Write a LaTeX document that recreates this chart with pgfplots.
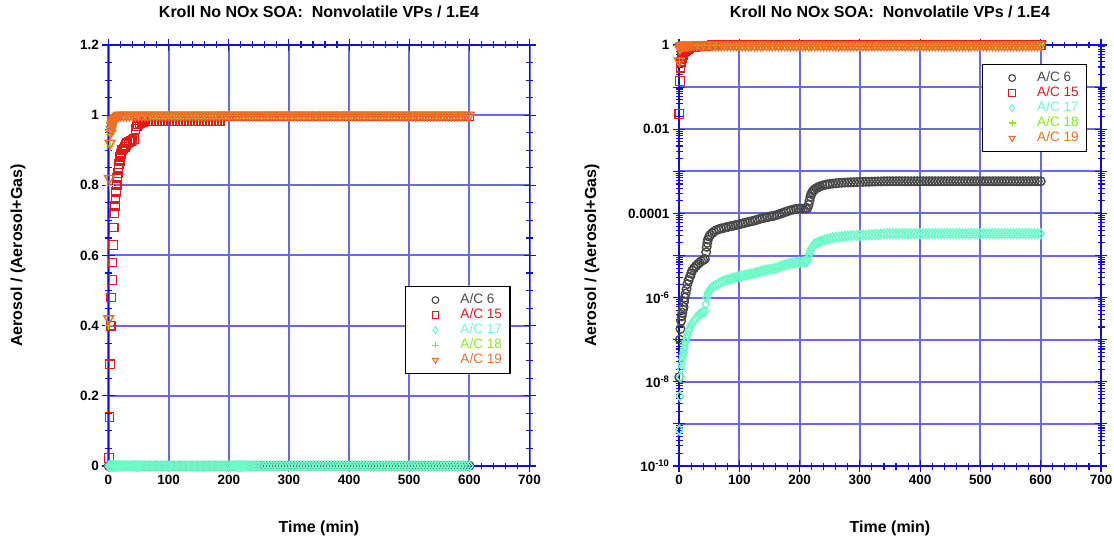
\documentclass[border=0pt]{standalone}
\usepackage{pgfplots}
\pgfplotsset{compat=1.18}
\usepackage{pgfplotstable}
\usepackage{fontspec}
\setmainfont{Liberation Sans}

\definecolor{axblue}{RGB}{15,15,215}
\definecolor{gridblue}{RGB}{105,105,228}
\definecolor{cA}{RGB}{72,72,72}
\definecolor{cB}{RGB}{225,25,25}
\definecolor{cC}{RGB}{110,250,200}
\definecolor{cD}{RGB}{130,235,30}
\definecolor{cE}{RGB}{240,110,35}

% A/C 6
\pgfplotstableread[row sep=\\]{
t v\\
0.5 1.3e-8\\ 1.5 1.0e-7\\ 2.5 1.8e-7\\ 3.5 2.8e-7\\ 4.5 3.6e-7\\ 5.5 4.4e-7\\ 6.5 5.2e-7\\ 7.5 6.0e-7\\ 8.5 8.0e-7\\ 9.5 1.0e-6\\
11 1.25e-6\\ 12.5 1.6e-6\\ 14 2.1e-6\\ 16 2.6e-6\\ 18 3.1e-6\\ 20 3.7e-6\\ 22 4.4e-6\\ 25 5.0e-6\\ 28 5.6e-6\\ 31 6.2e-6\\
34 6.8e-6\\ 37 7.3e-6\\ 40 7.8e-6\\ 43 8.3e-6\\ 45 1.2e-5\\ 46 1.6e-5\\ 47 2.0e-5\\ 48 2.4e-5\\ 50 2.8e-5\\ 52 3.1e-5\\
55 3.4e-5\\ 58 3.7e-5\\ 62 4.0e-5\\ 66 4.2e-5\\ 70 4.4e-5\\ 74 4.5e-5\\ 78 4.7e-5\\ 82 4.8e-5\\ 86 5.0e-5\\ 90 5.1e-5\\
94 5.3e-5\\ 98 5.4e-5\\ 102 5.6e-5\\ 106 5.8e-5\\ 110 6.0e-5\\ 114 6.2e-5\\ 118 6.4e-5\\ 122 6.6e-5\\ 126 6.8e-5\\ 130 7.1e-5\\
134 7.4e-5\\ 138 7.7e-5\\ 142 7.9e-5\\ 146 8.1e-5\\ 150 8.4e-5\\ 154 8.6e-5\\ 158 8.8e-5\\ 162 9.1e-5\\ 166 9.6e-5\\ 170 1.0e-4\\
174 1.05e-4\\ 178 1.1e-4\\ 182 1.15e-4\\ 186 1.2e-4\\ 190 1.24e-4\\ 194 1.27e-4\\ 198 1.29e-4\\ 202 1.3e-4\\ 206 1.3e-4\\ 210 1.31e-4\\
213 1.33e-4\\ 215 1.6e-4\\ 216.5 2.0e-4\\ 218 2.5e-4\\ 219.5 2.9e-4\\ 221 3.2e-4\\ 223 3.5e-4\\ 225 3.7e-4\\ 228 4.0e-4\\ 231 4.2e-4\\
234 4.4e-4\\ 238 4.6e-4\\ 242 4.75e-4\\ 246 4.9e-4\\ 250 5.0e-4\\ 255 5.1e-4\\ 260 5.2e-4\\ 265 5.3e-4\\ 270 5.35e-4\\ 275 5.4e-4\\
280 5.45e-4\\ 285 5.5e-4\\ 290 5.5e-4\\ 295 5.55e-4\\ 300 5.6e-4\\ 305 5.6e-4\\ 310 5.65e-4\\ 315 5.65e-4\\ 320 5.7e-4\\ 325 5.7e-4\\
330 5.75e-4\\ 335 5.75e-4\\ 340 5.8e-4\\ 345 5.8e-4\\ 350 5.8e-4\\ 355 5.8e-4\\ 360 5.8e-4\\ 365 5.8e-4\\ 370 5.8e-4\\ 375 5.8e-4\\
380 5.8e-4\\ 385 5.8e-4\\ 390 5.8e-4\\ 395 5.8e-4\\ 400 5.8e-4\\ 405 5.8e-4\\ 410 5.8e-4\\ 415 5.8e-4\\ 420 5.8e-4\\ 425 5.8e-4\\
430 5.8e-4\\ 435 5.8e-4\\ 440 5.8e-4\\ 445 5.8e-4\\ 450 5.8e-4\\ 455 5.8e-4\\ 460 5.8e-4\\ 465 5.8e-4\\ 470 5.8e-4\\ 475 5.8e-4\\
480 5.8e-4\\ 485 5.8e-4\\ 490 5.8e-4\\ 495 5.8e-4\\ 500 5.8e-4\\ 505 5.8e-4\\ 510 5.8e-4\\ 515 5.8e-4\\ 520 5.8e-4\\ 525 5.8e-4\\
530 5.8e-4\\ 535 5.8e-4\\ 540 5.8e-4\\ 545 5.8e-4\\ 550 5.8e-4\\ 555 5.8e-4\\ 560 5.8e-4\\ 565 5.8e-4\\ 570 5.8e-4\\ 575 5.8e-4\\
580 5.8e-4\\ 585 5.8e-4\\ 590 5.8e-4\\ 595 5.8e-4\\ 600 5.8e-4\\
}\tA

% A/C 15
\pgfplotstableread[row sep=\\]{
t v\\
0.5 0.023\\ 1.5 0.14\\ 2.5 0.29\\ 3.5 0.40\\ 4.5 0.48\\ 5.5 0.53\\ 6.5 0.58\\ 7.5 0.63\\ 8.5 0.68\\ 9.5 0.72\\
10.5 0.74\\ 11.5 0.76\\ 12.5 0.78\\ 13.5 0.80\\ 14.5 0.82\\ 15.5 0.835\\ 16.5 0.85\\ 17.5 0.86\\ 18.5 0.87\\ 19.5 0.88\\
21 0.89\\ 23 0.90\\ 25 0.905\\ 27 0.91\\ 29 0.915\\ 31 0.92\\ 34 0.923\\ 37 0.926\\ 40 0.93\\ 43 0.932\\
45 0.96\\ 47 0.968\\ 49 0.974\\ 52 0.977\\ 55 0.979\\ 58 0.98\\
60 0.982\\ 65 0.982\\ 70 0.982\\ 75 0.982\\ 80 0.982\\ 85 0.982\\ 90 0.982\\ 95 0.982\\ 100 0.982\\ 105 0.982\\
110 0.982\\ 115 0.982\\ 120 0.982\\ 125 0.982\\ 130 0.982\\ 135 0.982\\ 140 0.982\\ 145 0.982\\ 150 0.982\\ 155 0.982\\
160 0.982\\ 165 0.982\\ 170 0.982\\ 175 0.982\\ 180 0.982\\ 185 0.982\\
190 0.996\\ 200 0.996\\ 210 0.996\\ 220 0.996\\ 230 0.996\\ 240 0.996\\ 250 0.996\\ 260 0.996\\ 270 0.996\\ 280 0.996\\
290 0.996\\ 300 0.996\\ 310 0.996\\ 320 0.996\\ 330 0.996\\ 340 0.996\\ 350 0.996\\ 360 0.996\\ 370 0.996\\ 380 0.996\\
390 0.996\\ 400 0.996\\ 410 0.996\\ 420 0.996\\ 430 0.996\\ 440 0.996\\ 450 0.996\\ 460 0.996\\ 470 0.996\\ 480 0.996\\
490 0.996\\ 500 0.996\\ 510 0.996\\ 520 0.996\\ 530 0.996\\ 540 0.996\\ 550 0.996\\ 560 0.996\\ 570 0.996\\ 580 0.996\\
590 0.996\\ 600 0.996\\
}\tB

% A/C 17
\pgfplotstableread[row sep=\\]{
t v\\
0.5 7.2e-10\\ 1.5 4.6e-9\\ 2.5 1.3e-8\\ 3.5 2.0e-8\\ 4.5 2.6e-8\\ 5.5 3.4e-8\\ 6.5 4.2e-8\\ 7.5 5.0e-8\\ 8.5 6.0e-8\\ 9.5 7.2e-8\\
11 9.0e-8\\ 12.5 1.1e-7\\ 14 1.3e-7\\ 16 1.6e-7\\ 18 1.9e-7\\ 20 2.2e-7\\ 22 2.4e-7\\ 25 2.8e-7\\ 28 3.2e-7\\ 31 3.6e-7\\
34 3.9e-7\\ 37 4.2e-7\\ 40 4.5e-7\\ 43 4.7e-7\\ 44.5 7.0e-7\\ 46 1.0e-6\\ 47.5 1.2e-6\\ 49 1.35e-6\\ 51 1.5e-6\\ 53 1.65e-6\\
56 1.8e-6\\ 60 1.95e-6\\ 64 2.1e-6\\ 68 2.25e-6\\ 72 2.4e-6\\ 76 2.55e-6\\ 80 2.65e-6\\ 84 2.75e-6\\ 88 2.85e-6\\ 92 2.95e-6\\
96 3.05e-6\\ 100 3.15e-6\\ 104 3.25e-6\\ 108 3.35e-6\\ 112 3.45e-6\\ 116 3.55e-6\\ 120 3.65e-6\\ 124 3.75e-6\\ 128 3.9e-6\\ 132 4.05e-6\\
136 4.2e-6\\ 140 4.35e-6\\ 144 4.5e-6\\ 148 4.6e-6\\ 152 4.7e-6\\ 156 4.8e-6\\ 160 4.95e-6\\ 164 5.2e-6\\ 168 5.45e-6\\ 172 5.7e-6\\
176 5.95e-6\\ 180 6.2e-6\\ 184 6.4e-6\\ 188 6.6e-6\\ 192 6.75e-6\\ 196 6.85e-6\\ 200 6.9e-6\\ 204 6.95e-6\\ 208 7.0e-6\\ 211 7.1e-6\\
213 7.3e-6\\ 215 9.0e-6\\ 216.5 1.1e-5\\ 218 1.3e-5\\ 219.5 1.45e-5\\ 221 1.6e-5\\ 223 1.75e-5\\ 225 1.85e-5\\ 228 1.95e-5\\ 231 2.05e-5\\
234 2.15e-5\\ 238 2.25e-5\\ 242 2.35e-5\\ 246 2.45e-5\\ 250 2.5e-5\\ 255 2.6e-5\\ 260 2.7e-5\\ 265 2.75e-5\\ 270 2.8e-5\\ 275 2.85e-5\\
280 2.9e-5\\ 285 2.95e-5\\ 290 2.95e-5\\ 295 3.0e-5\\ 300 3.0e-5\\ 305 3.05e-5\\ 310 3.05e-5\\ 315 3.1e-5\\ 320 3.1e-5\\ 325 3.15e-5\\
330 3.15e-5\\ 335 3.2e-5\\ 340 3.25e-5\\ 345 3.3e-5\\ 350 3.3e-5\\ 355 3.3e-5\\ 360 3.3e-5\\ 365 3.3e-5\\ 370 3.3e-5\\ 375 3.3e-5\\
380 3.3e-5\\ 385 3.3e-5\\ 390 3.3e-5\\ 395 3.3e-5\\ 400 3.3e-5\\ 405 3.3e-5\\ 410 3.3e-5\\ 415 3.3e-5\\ 420 3.3e-5\\ 425 3.3e-5\\
430 3.3e-5\\ 435 3.3e-5\\ 440 3.3e-5\\ 445 3.3e-5\\ 450 3.3e-5\\ 455 3.3e-5\\ 460 3.3e-5\\ 465 3.3e-5\\ 470 3.3e-5\\ 475 3.3e-5\\
480 3.3e-5\\ 485 3.3e-5\\ 490 3.3e-5\\ 495 3.3e-5\\ 500 3.3e-5\\ 505 3.3e-5\\ 510 3.3e-5\\ 515 3.3e-5\\ 520 3.3e-5\\ 525 3.3e-5\\
530 3.3e-5\\ 535 3.3e-5\\ 540 3.3e-5\\ 545 3.3e-5\\ 550 3.3e-5\\ 555 3.3e-5\\ 560 3.3e-5\\ 565 3.3e-5\\ 570 3.3e-5\\ 575 3.3e-5\\
580 3.3e-5\\ 585 3.3e-5\\ 590 3.3e-5\\ 595 3.3e-5\\ 600 3.3e-5\\
}\tC

% A/C 18
\pgfplotstableread[row sep=\\]{
t v\\
0.5 0.40\\ 1.5 0.80\\ 2.5 0.91\\ 3.5 0.945\\ 4.5 0.955\\ 5.5 0.965\\ 6.5 0.97\\ 7.5 0.975\\ 8.5 0.98\\ 9.5 0.985\\
11 0.99\\ 13 0.993\\ 15 0.996\\ 20 0.999\\ 30 0.999\\ 40 0.999\\ 50 0.999\\ 60 0.999\\ 70 0.999\\ 80 0.999\\
90 0.999\\ 100 0.999\\ 110 0.999\\ 120 0.999\\ 130 0.999\\ 140 0.999\\ 150 0.999\\ 160 0.999\\ 170 0.999\\ 180 0.999\\
190 0.999\\ 200 0.999\\ 210 0.999\\ 220 0.999\\ 230 0.999\\ 240 0.999\\ 250 0.999\\ 260 0.999\\ 270 0.999\\ 280 0.999\\
290 0.999\\ 300 0.999\\ 310 0.999\\ 320 0.999\\ 330 0.999\\ 340 0.999\\ 350 0.999\\ 360 0.999\\ 370 0.999\\ 380 0.999\\
390 0.999\\ 400 0.999\\ 410 0.999\\ 420 0.999\\ 430 0.999\\ 440 0.999\\ 450 0.999\\ 460 0.999\\ 470 0.999\\ 480 0.999\\
490 0.999\\ 500 0.999\\ 510 0.999\\ 520 0.999\\ 530 0.999\\ 540 0.999\\ 550 0.999\\ 560 0.999\\ 570 0.999\\ 580 0.999\\
590 0.999\\ 600 0.999\\
}\tD

% A/C 19
\pgfplotstableread[row sep=\\]{
t v\\
0.5 0.42\\ 1.5 0.82\\ 2.5 0.92\\ 3.5 0.95\\ 4.5 0.96\\ 5.5 0.97\\ 6.5 0.975\\ 7.5 0.98\\ 8.5 0.985\\ 9.5 0.988\\
11 0.991\\ 13 0.994\\ 15 0.997\\ 17 1\\ 20 1\\ 25 1\\ 30 1\\ 35 1\\ 40 1\\ 45 1\\
50 1\\ 55 1\\ 60 1\\ 65 1\\ 70 1\\ 75 1\\ 80 1\\ 85 1\\ 90 1\\ 95 1\\
100 1\\ 105 1\\ 110 1\\ 115 1\\ 120 1\\ 125 1\\ 130 1\\ 135 1\\ 140 1\\ 145 1\\
150 1\\ 155 1\\ 160 1\\ 165 1\\ 170 1\\ 175 1\\ 180 1\\ 185 1\\ 190 1\\ 195 1\\
200 1\\ 205 1\\ 210 1\\ 215 1\\ 220 1\\ 225 1\\ 230 1\\ 235 1\\ 240 1\\ 245 1\\
250 1\\ 255 1\\ 260 1\\ 265 1\\ 270 1\\ 275 1\\ 280 1\\ 285 1\\ 290 1\\ 295 1\\
300 1\\ 305 1\\ 310 1\\ 315 1\\ 320 1\\ 325 1\\ 330 1\\ 335 1\\ 340 1\\ 345 1\\
350 1\\ 355 1\\ 360 1\\ 365 1\\ 370 1\\ 375 1\\ 380 1\\ 385 1\\ 390 1\\ 395 1\\
400 1\\ 405 1\\ 410 1\\ 415 1\\ 420 1\\ 425 1\\ 430 1\\ 435 1\\ 440 1\\ 445 1\\
450 1\\ 455 1\\ 460 1\\ 465 1\\ 470 1\\ 475 1\\ 480 1\\ 485 1\\ 490 1\\ 495 1\\
500 1\\ 505 1\\ 510 1\\ 515 1\\ 520 1\\ 525 1\\ 530 1\\ 535 1\\ 540 1\\ 545 1\\
550 1\\ 555 1\\ 560 1\\ 565 1\\ 570 1\\ 575 1\\ 580 1\\ 585 1\\ 590 1\\ 595 1\\
600 1\\
}\tE

\pgfplotsset{
  common/.style={
    scale only axis, height=421bp,
    clip=false,
    axis line style={axblue, line width=1.6bp},
    tick style={axblue, line width=1.1bp},
    major tick length=12bp, minor tick length=7bp,
    tick align=center, tick pos=both,
    grid=major, major grid style={gridblue, line width=2bp},
    xmin=0, xmax=700, xtick={0,100,200,300,400,500,600,700}, minor x tick num=4,
    ticklabel style={font=\fontsize{13.5bp}{16bp}\selectfont\bfseries},
    /pgf/number format/assume math mode=true,
    title={Kroll No NOx SOA:\ \ Nonvolatile VPs / 1.E4},
    title style={font=\fontsize{16bp}{19bp}\selectfont\bfseries, at={(axis description cs:0.5,1.064)}, anchor=center},
    xlabel={Time (min)},
    xlabel style={font=\fontsize{16bp}{19bp}\selectfont\bfseries, at={(axis description cs:0.5,-0.147)}, anchor=center},
    ylabel={Aerosol / (Aerosol+Gas)},
    ylabel style={font=\fontsize{16bp}{19bp}\selectfont\bfseries, anchor=center},
    legend cell align=left,
    legend style={draw=black, line width=1.2bp, fill=white, inner xsep=8bp, inner ysep=7bp,
      font=\fontsize{13.6bp}{15bp}\selectfont,
      nodes={inner sep=0pt, text height=10bp, text depth=3bp}, row sep=2bp},
    legend image code/.code={\path[draw=none,fill=none] (0bp,-5bp) rectangle (47bp,5bp); \draw[##1, mark size=3.4bp, line width=1.1bp] plot coordinates {(22bp,0bp)};},
  },
  sA/.style={only marks, mark=o, color=cA, mark size=4.3bp, line width=1.4bp},
  sB/.style={only marks, mark=square, color=cB, mark size=4.3bp, line width=1.2bp},
  sC/.style={only marks, mark=diamond, color=cC, mark size=4.8bp, line width=1.4bp},
  sD/.style={only marks, mark=+, color=cD, mark size=4.3bp, line width=1.2bp},
  sE/.style={only marks, mark=triangle, mark options={rotate=180}, color=cE, mark size=5.6bp, line width=1.4bp},
}

\begin{document}
\begin{tikzpicture}
\path[use as bounding box] (0bp,0bp) rectangle (1114bp,540bp);

\begin{axis}[common, at={(108.5bp,74bp)}, anchor=south west, width=421bp,
  ymin=0, ymax=1.2, ytick={0,0.2,0.4,0.6,0.8,1,1.2}, minor y tick num=3,
  ylabel style={at={(axis description cs:-0.215,0.5)}},
  legend style={at={(rel axis cs:0.704,0.4276)}, anchor=north west}]
\addplot[sA] table {\tA};
\addplot[sB] table {\tB};
\addplot[sC] table {\tC};
\addplot[sD] table {\tD};
\addplot[sE] table {\tE};
\legend{\textcolor{cA}{A/C 6},\textcolor{cB}{A/C 15},\textcolor{cC}{A/C 17},\textcolor{cD}{A/C 18},\textcolor{cE}{A/C 19}}
\end{axis}

\begin{axis}[common, at={(679bp,74bp)}, anchor=south west, width=422bp,
  ymode=log, ymin=1e-10, ymax=1,
  ytick={1e-10,1e-9,1e-8,1e-7,1e-6,1e-5,1e-4,1e-3,1e-2,1e-1,1},
  yticklabels={{10\textsuperscript{-10}},{},{10\textsuperscript{-8}},{},{10\textsuperscript{-6}},{},{0.0001},{},{0.01},{},{1}},
  minor ytick={2e-10,3e-10,4e-10,5e-10,6e-10,7e-10,8e-10,9e-10,
    2e-9,3e-9,4e-9,5e-9,6e-9,7e-9,8e-9,9e-9,
    2e-8,3e-8,4e-8,5e-8,6e-8,7e-8,8e-8,9e-8,
    2e-7,3e-7,4e-7,5e-7,6e-7,7e-7,8e-7,9e-7,
    2e-6,3e-6,4e-6,5e-6,6e-6,7e-6,8e-6,9e-6,
    2e-5,3e-5,4e-5,5e-5,6e-5,7e-5,8e-5,9e-5,
    2e-4,3e-4,4e-4,5e-4,6e-4,7e-4,8e-4,9e-4,
    2e-3,3e-3,4e-3,5e-3,6e-3,7e-3,8e-3,9e-3,
    2e-2,3e-2,4e-2,5e-2,6e-2,7e-2,8e-2,9e-2,
    0.2,0.3,0.4,0.5,0.6,0.7,0.8,0.9},
  ylabel style={at={(axis description cs:-0.206,0.5)}},
  legend style={at={(rel axis cs:0.717,0.955)}, anchor=north west}]
\addplot[sA] table {\tA};
\addplot[sB] table {\tB};
\addplot[sC] table {\tC};
\addplot[sD] table {\tD};
\addplot[sE] table {\tE};
\legend{\textcolor{cA}{A/C 6},\textcolor{cB}{A/C 15},\textcolor{cC}{A/C 17},\textcolor{cD}{A/C 18},\textcolor{cE}{A/C 19}}
\end{axis}
\end{tikzpicture}
\end{document}
